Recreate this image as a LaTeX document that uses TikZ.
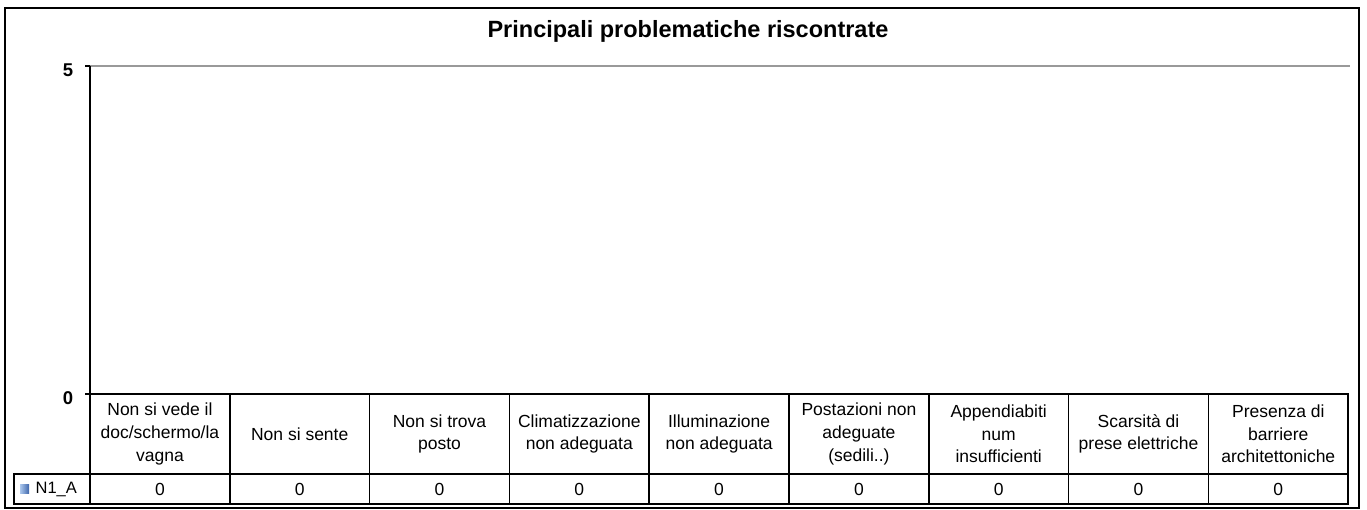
\documentclass[tikz,border=0pt]{standalone}
\usepackage{fontspec}
\setmainfont{Liberation Sans}
\usetikzlibrary{positioning}
\definecolor{serieslight}{RGB}{170,198,236}
\definecolor{seriesdark}{RGB}{60,100,170}

\begin{document}
\begin{tikzpicture}[x=1pt,y=-1pt]
                        \tikzset{Head/.style={%
                                shape=rectangle,%
                                draw=black,%
                                line width=1.6pt,%
                                outer sep=0pt,%
                                inner sep=0pt,%
                                minimum width=139.8pt,%
                                minimum height=80pt,%
                                align=center,%
                                font=\fontsize{17.5}{22.7}\selectfont,%
                            },
                            Val/.style={Head, minimum height=30pt},
                            AxisNum/.style={font=\fontsize{18.5}{20}\selectfont\bfseries, inner sep=0pt}}

                            \useasboundingbox (0,0) rectangle (1367,510);
                            \draw[line width=1.6pt] (5,8) rectangle (1359,508);

                            \node[font=\fontsize{23.5}{26}\selectfont\bfseries] (title) at (688,31) {Principali problematiche riscontrate};

                            % axis
                            \coordinate (top) at (90,66);
                            \coordinate (bot) at (90,394);
                            \coordinate (gridend) at (1350,66);
                            \draw[gray!80, line width=1.4pt] (top) -- (gridend);
                            \draw[line width=1.6pt] (top) -- (bot);
                            \draw[line width=1.6pt] (top) -- ++(-5,0);
                            \draw[line width=1.6pt] (bot) -- ++(-5,0);
                            \node[AxisNum] (five) at (68,70) {5};
                            \node[AxisNum] (zero) at (68,398) {0};

                            % table
                            \node[Head, anchor=north west] (h1) at (bot) {Non si vede il\\doc/schermo/la\\vagna};
                            \node[Head, right=0pt of h1] (h2) {Non si sente};
                            \node[Head, right=0pt of h2] (h3) {Non si trova\\posto};
                            \node[Head, right=0pt of h3] (h4) {Climatizzazione\\non adeguata};
                            \node[Head, right=0pt of h4] (h5) {Illuminazione\\non adeguata};
                            \node[Head, right=0pt of h5] (h6) {Postazioni non\\adeguate\\(sedili..)};
                            \node[Head, right=0pt of h6] (h7) {Appendiabiti\\num\\insufficienti};
                            \node[Head, right=0pt of h7] (h8) {Scarsità di\\prese elettriche};
                            \node[Head, right=0pt of h8] (h9) {Presenza di\\barriere\\architettoniche};

                            \node[Val, below=0pt of h1] (v1) {0};
                            \node[Val, below=0pt of h2] (v2) {0};
                            \node[Val, below=0pt of h3] (v3) {0};
                            \node[Val, below=0pt of h4] (v4) {0};
                            \node[Val, below=0pt of h5] (v5) {0};
                            \node[Val, below=0pt of h6] (v6) {0};
                            \node[Val, below=0pt of h7] (v7) {0};
                            \node[Val, below=0pt of h8] (v8) {0};
                            \node[Val, below=0pt of h9] (v9) {0};
                            \node[Val, minimum width=76pt, left=0pt of v1] (leg) {};
                            \node[inner sep=0pt, minimum size=9pt, left color=serieslight, right color=seriesdark,
                                  right=6pt of leg.west] (mark) {};
                            \node[font=\fontsize{16.5}{18}\selectfont, inner sep=0pt, right=6pt of mark] (series) {N1\_A};
                    \end{tikzpicture}
\end{document}
